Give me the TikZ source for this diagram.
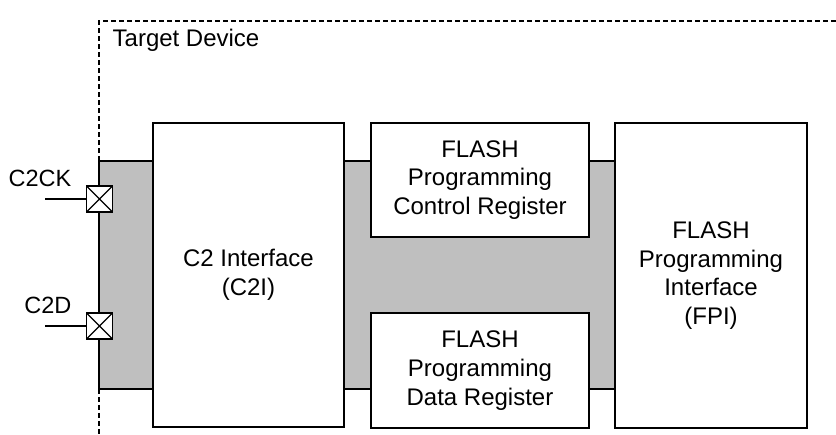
\documentclass[tikz,border=0pt]{standalone}
\usepackage{fontspec}
\setmainfont{Liberation Sans}
\usetikzlibrary{positioning}

\tikzset{
  blk/.style={draw, fill=white, line width=1.3pt, align=center, inner sep=0pt,
    font=\fontsize{24}{28.7}\selectfont},
  pad/.style={draw, fill=white, line width=1.3pt, minimum size=26pt, inner sep=0pt,
    path picture={\draw[line width=1.1pt] (path picture bounding box.south west) -- (path picture bounding box.north east)
      (path picture bounding box.north west) -- (path picture bounding box.south east);}},
  pinlabel/.style={anchor=base east, inner sep=0pt, font=\fontsize{23.5}{26}\selectfont},
  border/.style={line width=1.3pt, dash pattern=on 5pt off 3pt},
}

\begin{document}
\begin{tikzpicture}[x=1pt, y=-1pt, line width=1.3pt]
\useasboundingbox (0,0) rectangle (836,435);

% Shared bus area
\fill[black!25] (99,161) rectangle (615,389);
\draw (153,161) -- (99,161) -- (99,389) -- (153,389);
\draw (344,161) -- (371,161) (344,389) -- (371,389);
\draw (589,161) -- (615,161) (589,389) -- (615,389);

% Device border
\draw[border] (99,161) -- (99,21) -- (836,21);
\draw[border] (99,389) -- (99,435);
\node[anchor=base west, inner sep=0pt, font=\fontsize{24}{28}\selectfont] (target) at (112,47) {Target Device};

% Blocks
\node[blk, minimum width=191pt, minimum height=304pt] (c2i) at (248.5,275) {C2 Interface\\(C2I)};
\node[blk, minimum width=218pt, minimum height=114pt] (ctrl) at (480,180) {FLASH\\Programming\\Control Register};
\node[blk, minimum width=218pt, minimum height=115pt] (data) at (480,370.5) {FLASH\\Programming\\Data Register};
\node[blk, minimum width=192pt, minimum height=305pt] (fpi) at (711,275.5) {FLASH\\Programming\\Interface\\(FPI)};

% Pins
\node[pad] (ckpad) at (99.5,199) {};
\node[pad] (dpad) at (99.5,326) {};
\coordinate (ckin) at (45,199);
\coordinate (din) at (45,326);
\draw (ckin) -- (ckpad);
\draw (din) -- (dpad);
\node[pinlabel] (cklbl) at (72,187) {C2CK};
\node[pinlabel] (dlbl) at (72,314) {C2D};

\end{tikzpicture}
\end{document}
